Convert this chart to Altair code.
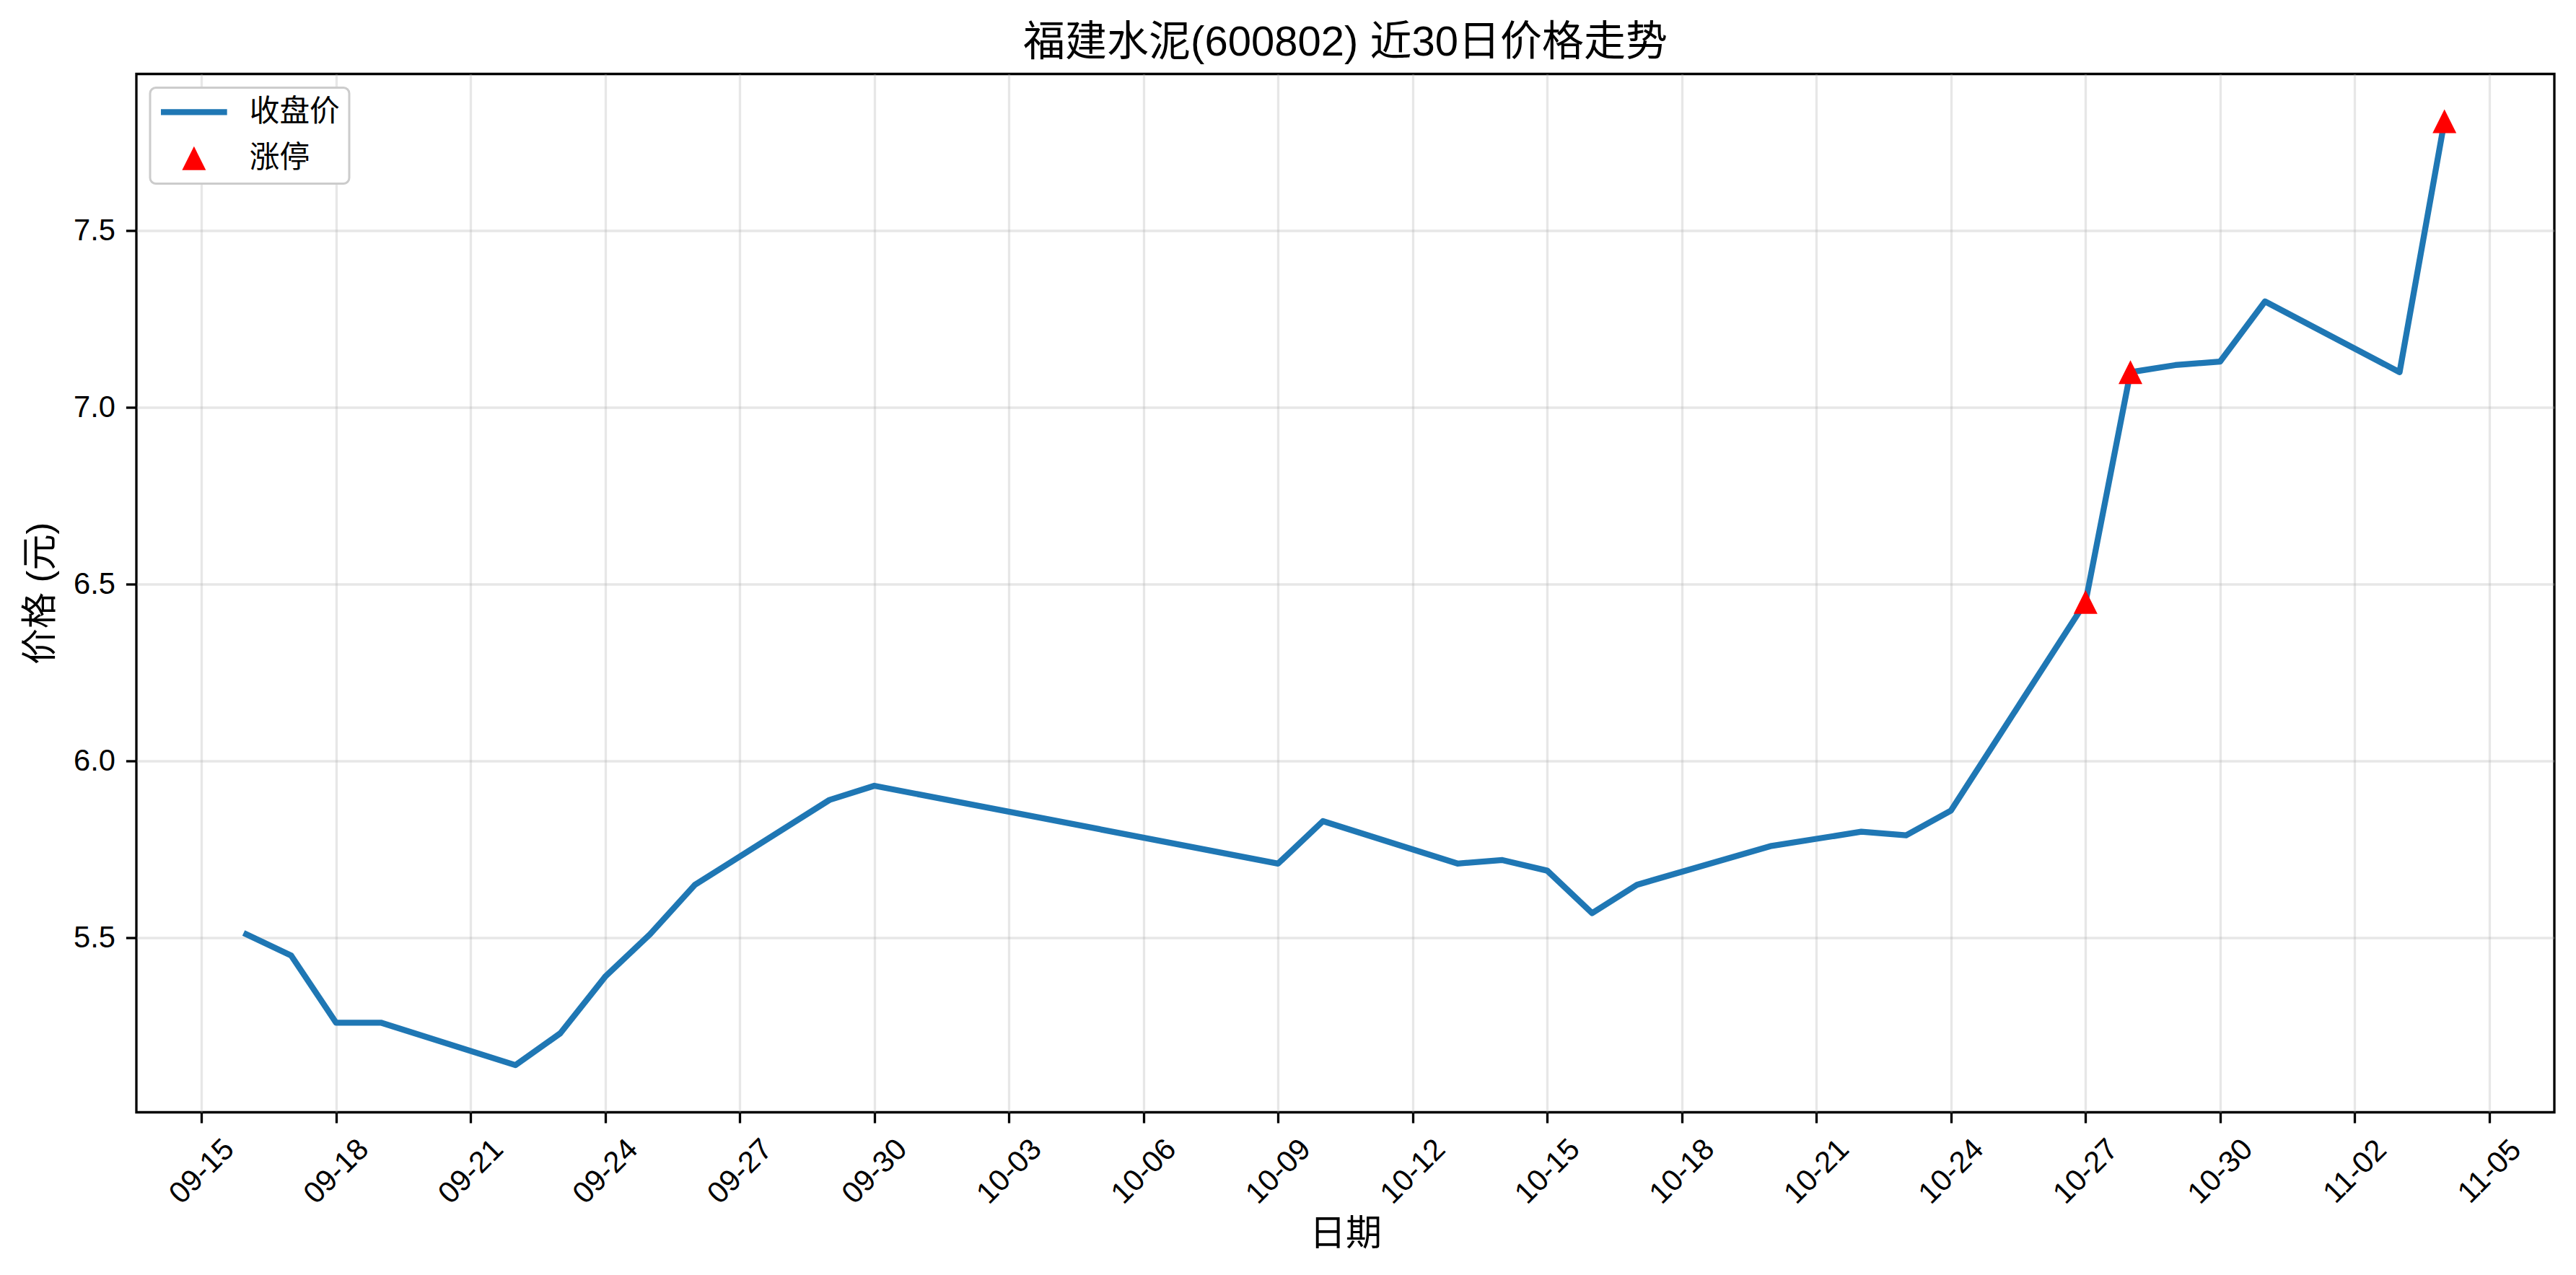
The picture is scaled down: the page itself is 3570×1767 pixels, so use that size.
import altair as alt
import pandas as pd

# ---- data ----
dates = [
    "2025-09-16", "2025-09-17", "2025-09-18", "2025-09-19", "2025-09-22",
    "2025-09-23", "2025-09-24", "2025-09-25", "2025-09-26", "2025-09-29",
    "2025-09-30", "2025-10-09", "2025-10-10", "2025-10-13", "2025-10-14",
    "2025-10-15", "2025-10-16", "2025-10-17", "2025-10-20", "2025-10-21",
    "2025-10-22", "2025-10-23", "2025-10-24", "2025-10-27", "2025-10-28",
    "2025-10-29", "2025-10-30", "2025-10-31", "2025-11-03", "2025-11-04",
]
closes = [
    5.51, 5.45, 5.26, 5.26, 5.14,
    5.23, 5.39, 5.51, 5.65, 5.89,
    5.93, 5.71, 5.83, 5.71, 5.72,
    5.69, 5.57, 5.65, 5.76, 5.78,
    5.80, 5.79, 5.86, 6.45, 7.10,
    7.12, 7.13, 7.30, 7.10, 7.81,
]
limit_up_dates = ["2025-10-27", "2025-10-28", "2025-11-04"]

x_tick_dates = [
    "2025-09-15", "2025-09-18", "2025-09-21", "2025-09-24", "2025-09-27",
    "2025-09-30", "2025-10-03", "2025-10-06", "2025-10-09", "2025-10-12",
    "2025-10-15", "2025-10-18", "2025-10-21", "2025-10-24", "2025-10-27",
    "2025-10-30", "2025-11-02", "2025-11-05",
]
y_ticks = [5.5, 6.0, 6.5, 7.0, 7.5]
x_domain = ["2025-09-13T13:12:00", "2025-11-06T10:48:00"]
y_domain = [5.0065, 7.9435]

series_names = ["收盘价", "涨停"]
series_colors = ["#1f77b4", "#ff0000"]
title_text = "福建水泥(600802) 近30日价格走势"
x_title = "日期"
y_title = "价格 (元)"

FONT = "Liberation Sans, Arial, Noto Sans CJK SC"


def dt(s):
    t = pd.Timestamp(s)
    return alt.DateTime(year=t.year, month=t.month, date=t.day,
                        hours=t.hour, minutes=t.minute, utc=True)


df_line = pd.DataFrame({"date": dates, "close": closes})
df_lim = df_line[df_line["date"].isin(limit_up_dates)].copy()
df_lim["series"] = series_names[1]

bar_path = "M-2.5,-0.23L2.5,-0.23L2.5,0.23L-2.5,0.23Z"
tri_path = "M0,-0.9L-0.9,0.9L0.9,0.9Z"

x_enc = alt.X(
    "date:T",
    scale=alt.Scale(type="utc", domain=[dt(d) for d in x_domain], nice=False),
    axis=alt.Axis(
        values=[dt(d) for d in x_tick_dates],
        labelExpr="utcFormat(datum.value, '%m-%d')",
        labelAngle=315, labelAlign="center", labelBaseline="middle",
        labelPadding=67, labelOverlap=False, labelFlush=False,
        title=x_title, titlePadding=9,
    ),
)
y_enc = alt.Y(
    "close:Q",
    scale=alt.Scale(domain=y_domain, nice=False, zero=False),
    axis=alt.Axis(values=y_ticks, format=".1f", labelPadding=15,
                  title=y_title, titlePadding=20),
)

line = alt.Chart(df_line).mark_line(
    color=series_colors[0], strokeWidth=8.3, strokeJoin="round", strokeCap="square"
).encode(x=x_enc, y=y_enc)

legend = alt.Legend(
    title=None, orient="top-left", offset=19, padding=13,
    fillColor="white", strokeColor="#cccccc", cornerRadius=8,
    symbolSize=1344, symbolOffset=27, labelOffset=56, rowPadding=21,
    labelFontSize=41.7, labelFont=FONT, labelColor="black",
)

points = alt.Chart(df_lim).mark_point(filled=True, size=1344, opacity=1).encode(
    x=alt.X("date:T"),
    y=alt.Y("close:Q"),
    color=alt.Color("series:N",
                    scale=alt.Scale(domain=series_names, range=series_colors),
                    legend=legend),
    shape=alt.Shape("series:N",
                    scale=alt.Scale(domain=series_names, range=[bar_path, tri_path]),
                    legend=legend),
)

chart = alt.layer(line, points).properties(
    width=3351, height=1439,
    autosize=alt.AutoSizeParams(type="none"),
    padding={"left": 181, "top": 94.5, "right": 20, "bottom": 235},
    title=alt.TitleParams(title_text, fontSize=58, font=FONT, fontWeight="normal",
                          color="black", anchor="middle", baseline="alphabetic",
                          offset=25, dy=57),
).configure_view(
    stroke="black", strokeWidth=3.3
).configure_axis(
    domain=False, grid=True, gridColor="#b0b0b0", gridOpacity=0.3, gridWidth=3.3,
    tickColor="black", tickWidth=3.3, tickSize=14.6,
    labelFont=FONT, labelFontSize=41.7, labelColor="black",
    titleFont=FONT, titleFontSize=50, titleFontWeight="normal", titleColor="black",
).configure_legend(
    strokeWidth=3
)

chart.save("out.html", embed_options={"renderer": "svg", "actions": False})
